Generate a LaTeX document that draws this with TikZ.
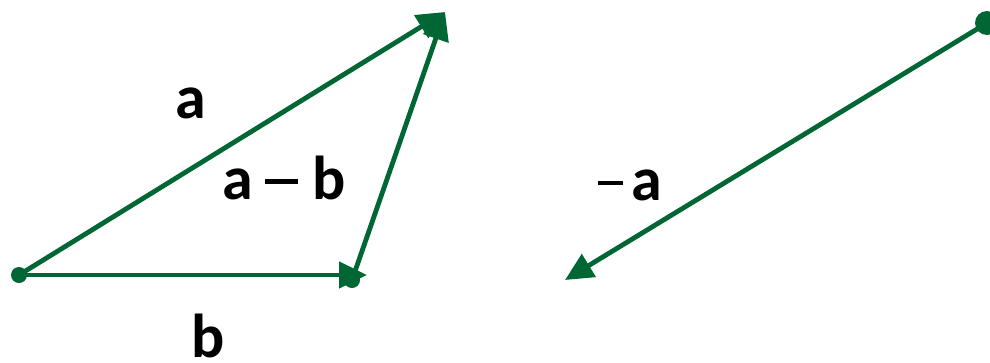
\documentclass[tikz,border=0pt]{standalone}
\usepackage{fontspec}
\setmainfont{Carlito}
\usetikzlibrary{arrows.meta}
\definecolor{vecgreen}{RGB}{0,102,51}

\begin{document}
\begin{tikzpicture}[x=1pt,y=-1pt,
    vec/.style={vecgreen,line width=4.8pt,-{Triangle[length=28pt,width=26pt]}},
    lbl/.style={font=\fontsize{62}{66}\bfseries\selectfont,anchor=base,inner sep=0pt}]
      \useasboundingbox (0,0) rectangle (990,362);
      \coordinate (O) at (19,275);
      \coordinate (B) at (352,280);
      \coordinate (A) at (445,12);
      \coordinate (Bt) at (367,275);
      \coordinate (S) at (987,23);
      \coordinate (T) at (565,280);
      \draw[vec] (O) -- (A);
      \draw[vec] (O) -- (Bt);
      \draw[vec] (B) -- (A);
      \draw[vec] (S) -- (T);
      \fill[vecgreen] (O) circle (8);
      \fill[vecgreen] (B) circle (8);
      \fill[vecgreen] (S) circle (12);
      \node[lbl] (la) at (191,118) {a};
      \node[lbl] (lb) at (208,357) {b};
      \node[lbl] (lab) at (284,199) {a\hspace{12pt}\rule[15.5pt]{33pt}{5pt}\hspace{14pt}b};
      \node[lbl] (lna) at (630,200) {\rule[15.5pt]{25pt}{4pt}\hspace{9pt}a};
    \end{tikzpicture}
\end{document}
